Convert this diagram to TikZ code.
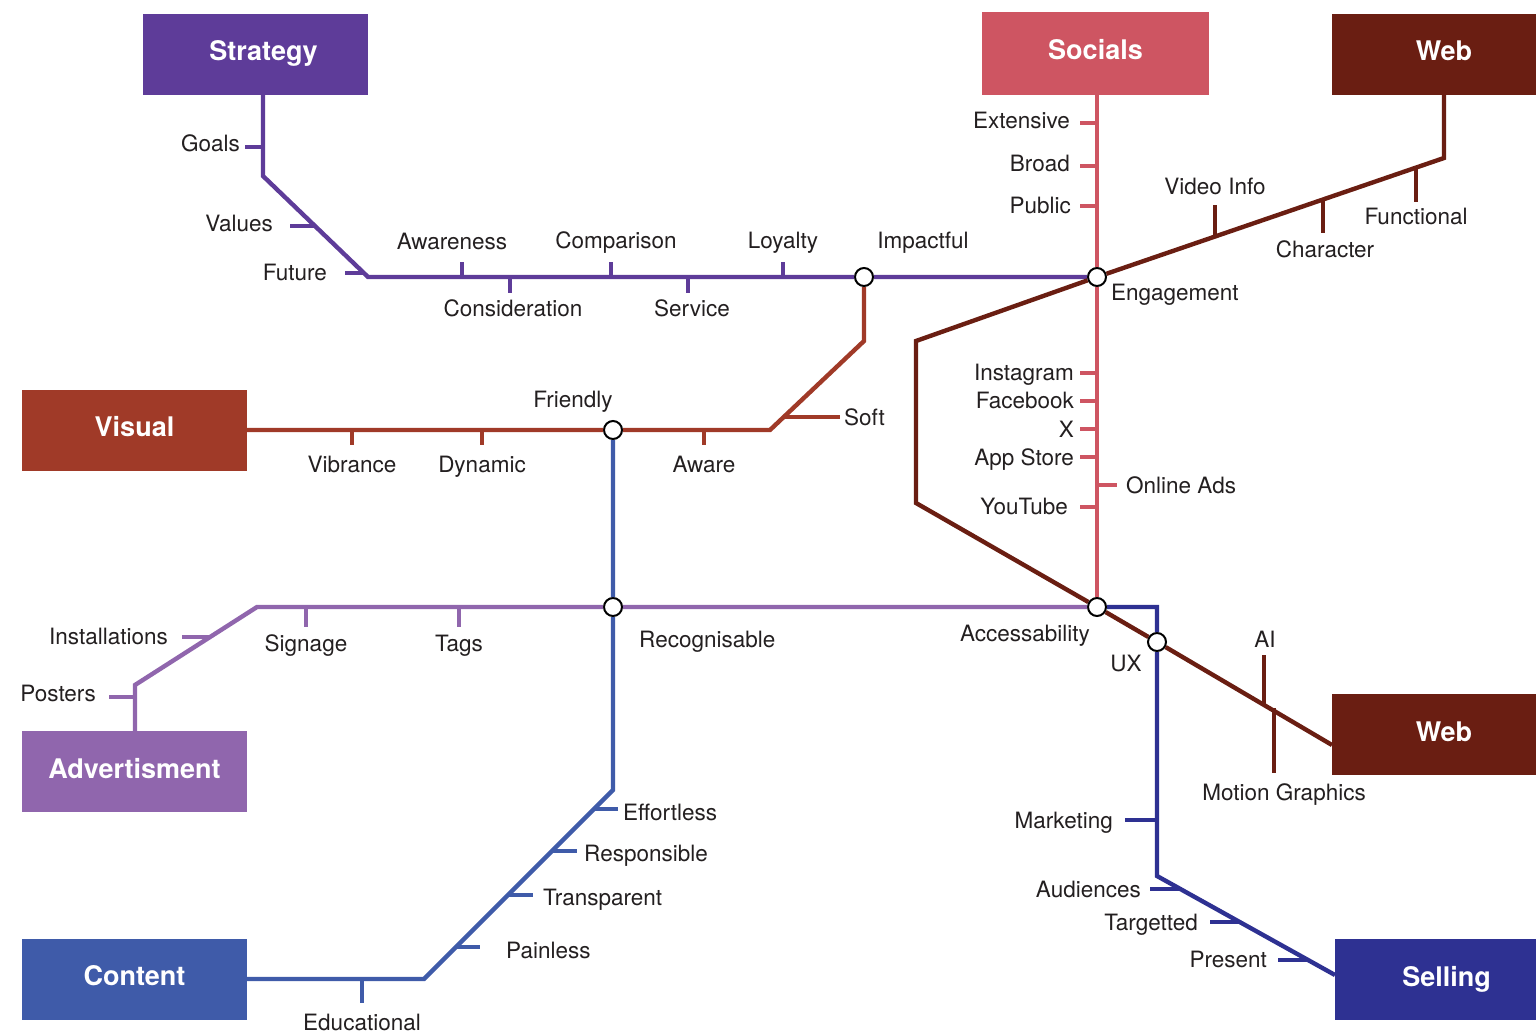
\documentclass[tikz,border=0pt]{standalone}
\usepackage{fontspec}
\setmainfont{TeX Gyre Heros}
\definecolor{cstrat}{HTML}{5E3C99}
\definecolor{csoc}{HTML}{CE5562}
\definecolor{cweb}{HTML}{6A1E12}
\definecolor{cvis}{HTML}{A03A28}
\definecolor{cadv}{HTML}{9066AD}
\definecolor{ccont}{HTML}{3F5BA9}
\definecolor{csell}{HTML}{2E3192}
\definecolor{txt}{HTML}{231F20}
\begin{document}
\begin{tikzpicture}[x=1pt,y=-1pt,
  ln/.style={line width=4.4pt},
  lbl/.style={font=\fontsize{22.5}{24}\selectfont, text=txt, inner sep=0pt, text height=16pt, text depth=0pt},
  box/.style={font=\bfseries\fontsize{27}{30}\selectfont, text=white, minimum width=225pt, minimum height=81pt, inner sep=0pt, text height=19pt, text depth=6pt},
  junc/.style={circle, draw=black, fill=white, line width=2pt, minimum size=18pt, inner sep=0pt},
]
\useasboundingbox (0,0) rectangle (1536,1035);
% boxes
\node[box, fill=cstrat] (strategy) at (255.5,54.5) {\hspace*{16pt}Strategy};
\node[box, fill=csoc, minimum width=227pt, minimum height=83pt] (socials) at (1095.5,53.5) {Socials};
\node[box, fill=cweb, minimum width=204pt] (webtop) at (1434,54.5) {\hspace*{20pt}Web};
\node[box, fill=cvis] (visual) at (134.5,430) {Visual};
\node[box, fill=cadv] (advert) at (134.5,771.5) {Advertisment};
\node[box, fill=ccont] (content) at (134.5,979) {Content};
\node[box, fill=cweb, minimum width=204pt] (webbot) at (1434,734.5) {\hspace*{20pt}Web};
\node[box, fill=csell, minimum width=201pt] (selling) at (1435.5,979.5) {\hspace*{22pt}Selling};
% coordinates
\coordinate (s1) at (263,176);
\coordinate (s2) at (368,277);
\coordinate (w1) at (1444,158);
\coordinate (w2) at (916,341);
\coordinate (w3) at (916,503);
\coordinate (w4) at (1332,745);
\coordinate (v1) at (770,430);
\coordinate (v2) at (864,341);
\coordinate (c1) at (424,979);
\coordinate (c2) at (613,790);
\coordinate (a1) at (135,685);
\coordinate (a2) at (257,607);
\coordinate (e1) at (1157,607);
\coordinate (e2) at (1157,876);
\coordinate (e3) at (1335,975);
% ticks (drawn first)
\begin{scope}[ln, cstrat]
\draw (245,147) -- (263,147);
\draw (290,226) -- (315,226);
\draw (345,273) -- (364,273);
\draw (462,277) -- (462,262);
\draw (510,277) -- (510,293);
\draw (611,277) -- (611,262);
\draw (688,277) -- (688,293);
\draw (783,277) -- (783,262);
\end{scope}
\begin{scope}[ln, csoc]
\draw (1080,123) -- (1097,123);
\draw (1080,166) -- (1097,166);
\draw (1080,206) -- (1097,206);
\draw (1080,373) -- (1097,373);
\draw (1080,401) -- (1097,401);
\draw (1080,429) -- (1097,429);
\draw (1080,457) -- (1097,457);
\draw (1080,507) -- (1097,507);
\draw (1097,485) -- (1117,485);
\end{scope}
\begin{scope}[ln, cweb]
\draw (1215,237) -- (1215,205);
\draw (1323,200) -- (1323,233);
\draw (1416,168) -- (1416,202);
\draw (1264,655) -- (1264,704);
\draw (1274,708) -- (1274,773);
\end{scope}
\begin{scope}[ln, cvis]
\draw (352,430) -- (352,445);
\draw (482,430) -- (482,445);
\draw (704,430) -- (704,445);
\draw (784,417) -- (840,417);
\end{scope}
\begin{scope}[ln, ccont]
\draw (362,979) -- (362,1003);
\draw (594,809) -- (618,809);
\draw (552,851) -- (577,851);
\draw (508,895) -- (533,895);
\draw (456,947) -- (480,947);
\end{scope}
\begin{scope}[ln, cadv]
\draw (109,697) -- (135,697);
\draw (182,637) -- (210,637);
\draw (306,607) -- (306,627);
\draw (459,607) -- (459,627);
\end{scope}
\begin{scope}[ln, csell]
\draw (1125,820) -- (1157,820);
\draw (1150,889) -- (1180,889);
\draw (1210,922) -- (1240,922);
\draw (1278,960) -- (1308,960);
\end{scope}
% junctions
\node[junc] (jimp) at (864,277) {};
\node[junc] (jeng) at (1097,277) {};
\node[junc] (jfri) at (613,430) {};
\node[junc] (jrec) at (613,607) {};
\node[junc] (jacc) at (1097,607) {};
\node[junc] (jux) at (1157,642) {};
% main lines
\draw[ln, cstrat] (strategy.south -| s1) -- (s1) -- (s2) -- (jimp) -- (jeng);
\draw[ln, csoc] (socials.south -| jeng) -- (jeng) -- (jacc);
\draw[ln, cweb] (webtop.south -| w1) -- (w1) -- (jeng) -- (w2) -- (w3) -- (jacc) -- (jux) -- (w4);
\draw[ln, cvis] (visual.east) -- (jfri) -- (v1) -- (v2) -- (jimp);
\draw[ln, ccont] (content.east) -- (c1) -- (c2) -- (jrec) -- (jfri);
\draw[ln, cadv] (advert.north -| a1) -- (a1) -- (a2) -- (jrec) -- (jacc);
\draw[ln, csell] (jacc) -- (e1) -- (jux) -- (e2) -- (e3);
% labels
\node[lbl, anchor=east] (lgoals) at (240,144) {Goals};
\node[lbl, anchor=east] (lvalues) at (273,224) {Values};
\node[lbl, anchor=east] (lfuture) at (327,272) {Future};
\node[lbl] (lawa) at (452,241) {Awareness};
\node[lbl] (lcons) at (513,308) {Consideration};
\node[lbl] (lcomp) at (616,240) {Comparison};
\node[lbl] (lserv) at (692,308) {Service};
\node[lbl] (lloy) at (783,240) {Loyalty};
\node[lbl] (limp) at (923,240) {Impactful};
\node[lbl, anchor=east] (lext) at (1070,121) {Extensive};
\node[lbl, anchor=east] (lbroad) at (1070,164) {Broad};
\node[lbl, anchor=east] (lpub) at (1071,206) {Public};
\node[lbl] (lvid) at (1215,187) {Video Info};
\node[lbl] (lfunc) at (1416,216) {Functional};
\node[lbl] (lchar) at (1325,249) {Character};
\node[lbl, anchor=west] (leng) at (1111,292) {Engagement};
\node[lbl] (lfri) at (573,399) {Friendly};
\node[lbl, anchor=west] (lsoft) at (844,417) {Soft};
\node[lbl] (lvib) at (352,464) {Vibrance};
\node[lbl] (ldyn) at (482,464) {Dynamic};
\node[lbl] (laware) at (704,464) {Aware};
\node[lbl, anchor=east] (linsta) at (1074,372) {Instagram};
\node[lbl, anchor=east] (lfb) at (1074,400) {Facebook};
\node[lbl, anchor=east] (lx) at (1074,429) {X};
\node[lbl, anchor=east] (lapp) at (1074,457) {App Store};
\node[lbl, anchor=east] (lyt) at (1068,506) {YouTube};
\node[lbl, anchor=west] (lads) at (1126,485) {Online Ads};
\node[lbl, anchor=east] (linst) at (168,636) {Installations};
\node[lbl, anchor=east] (lpost) at (96,693) {Posters};
\node[lbl] (lsign) at (306,643) {Signage};
\node[lbl] (ltags) at (459,643) {Tags};
\node[lbl, anchor=west] (lrec) at (639,639) {Recognisable};
\node[lbl, anchor=east] (lacc) at (1090,633) {Accessability};
\node[lbl] (lux) at (1126,663) {UX};
\node[lbl] (lai) at (1265,639) {AI};
\node[lbl] (lmot) at (1284,792) {Motion Graphics};
\node[lbl, anchor=west] (leff) at (623,812) {Effortless};
\node[lbl, anchor=west] (lresp) at (584,853) {Responsible};
\node[lbl, anchor=west] (ltrans) at (543,897) {Transparent};
\node[lbl, anchor=west] (lpain) at (506,950) {Painless};
\node[lbl] (ledu) at (362,1022) {Educational};
\node[lbl, anchor=east] (lmark) at (1113,820) {Marketing};
\node[lbl, anchor=east] (laud) at (1141,889) {Audiences};
\node[lbl, anchor=east] (ltarg) at (1198,922) {Targetted};
\node[lbl, anchor=east] (lpres) at (1267,959) {Present};
\end{tikzpicture}
\end{document}
